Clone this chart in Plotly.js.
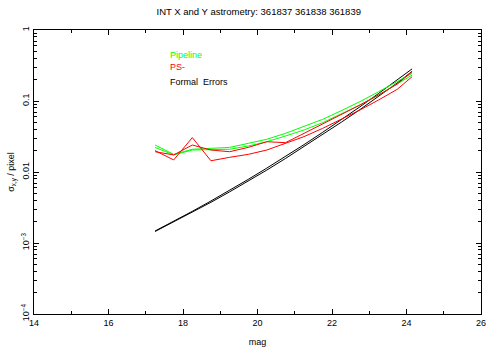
<!DOCTYPE html>
<html>
<head>
<meta charset="utf-8">
<script src="https://cdn.plot.ly/plotly-3.0.1.min.js"></script>
<style>html,body{margin:0;padding:0;background:#fff;}#chart{width:491px;height:352px;}</style>
</head>
<body>
<div id="chart"></div>
<script>
var mag = [17.25, 17.75, 18.25, 18.75, 19.25, 19.75, 20.25, 20.75, 21.25, 21.75, 22.25, 22.75, 23.25, 23.75, 24.15];

var pipelineX = [0.0240, 0.0177, 0.0209, 0.0216, 0.0222, 0.0253, 0.0289, 0.0350, 0.0435, 0.0552, 0.0731, 0.0979, 0.135, 0.187, 0.245];
var pipelineY = [0.0222, 0.0174, 0.0204, 0.0204, 0.0209, 0.0232, 0.0267, 0.0321, 0.0391, 0.0495, 0.0656, 0.0878, 0.1215, 0.173, 0.232];

var psX = [0.0200, 0.0148, 0.0305, 0.0144, 0.0161, 0.0177, 0.0204, 0.0253, 0.0315, 0.0412, 0.0552, 0.0747, 0.1033, 0.146, 0.220];
var psY = [0.0193, 0.0174, 0.0240, 0.0204, 0.0193, 0.0222, 0.0267, 0.0259, 0.0350, 0.0474, 0.0635, 0.0878, 0.1215, 0.173, 0.259];

var formalX = [0.001476, 0.002022, 0.002794, 0.003905, 0.005507, 0.007866, 0.01135, 0.01653, 0.02432, 0.03624, 0.05454, 0.08286, 0.1276, 0.1977, 0.2832];
var formalY = [0.001452, 0.001976, 0.002706, 0.003742, 0.005248, 0.007418, 0.01064, 0.01549, 0.02280, 0.03375, 0.05026, 0.07568, 0.1157, 0.1794, 0.2612];

var yTickVals = [0.0001, 0.001, 0.01, 0.1, 1];
var yTickText = ["10<sup>−4</sup>", "10<sup>−3</sup>", "0.01", "0.1", "1"];
var xTickVals = [14, 16, 18, 20, 22, 24, 26];

var titleText = "INT X and Y astrometry: 361837 361838 361839";
var legendNames = ["Pipeline", "PS-", "Formal  Errors"];
var legendColors = ["#00ff00", "#ff0000", "#000000"];

var FONT = "Liberation Sans, DejaVu Sans, sans-serif";

function tr(y, color) {
  return {x: mag, y: y, mode: "lines", type: "scatter",
          line: {color: color, width: 1}, hoverinfo: "skip", showlegend: false};
}

var data = [
  tr(formalX, "#000000"), tr(formalY, "#000000"),
  tr(pipelineX, "#00ff00"), tr(pipelineY, "#00ff00"),
  tr(psX, "#ff0000"), tr(psY, "#ff0000")
];

var annYs = [0.912, 0.871, 0.816];
var annotations = legendNames.map(function (n, i) {
  return {text: n, xref: "paper", yref: "paper", x: 0.30, y: annYs[i],
          xanchor: "left", yanchor: "middle", showarrow: false,
          font: {family: FONT, size: 9, color: legendColors[i]}};
});

var layout = {
  width: 491, height: 352,
  margin: {l: 34, r: 10, t: 30, b: 38},
  paper_bgcolor: "#ffffff", plot_bgcolor: "#ffffff",
  font: {family: FONT, size: 9, color: "#000"},
  title: {text: titleText, x: 0.527, xanchor: "center", y: 0.966, yanchor: "middle",
          font: {family: FONT, size: 9.5, color: "#000"}},
  xaxis: {
    range: [14, 26], tickvals: xTickVals, ticktext: xTickVals.map(String),
    ticks: "inside", ticklen: 5, tickwidth: 1, tickcolor: "#000",
    showline: true, linecolor: "#000", linewidth: 1, mirror: "ticks",
    showgrid: false, zeroline: false,
    minor: {ticks: "inside", ticklen: 3, dtick: 1, tick0: 14, tickcolor: "#000", showgrid: false},
    title: {text: "mag", standoff: 11, font: {family: FONT, size: 9}},
    tickfont: {family: FONT, size: 9}
  },
  yaxis: {
    type: "log", range: [-4, 0], tickvals: yTickVals, ticktext: yTickText,
    tickangle: -90,
    ticks: "inside", ticklen: 5, tickwidth: 1, tickcolor: "#000",
    showline: true, linecolor: "#000", linewidth: 1, mirror: "ticks",
    showgrid: false, zeroline: false,
    minor: {ticks: "inside", ticklen: 3, dtick: "D1", tickcolor: "#000", showgrid: false},
    title: {text: "σ<sub>x,y</sub> / pixel", standoff: 3, font: {family: FONT, size: 9}},
    tickfont: {family: FONT, size: 9}
  },
  annotations: annotations
};

Plotly.newPlot("chart", data, layout, {displayModeBar: false, staticPlot: true});
</script>
</body>
</html>
